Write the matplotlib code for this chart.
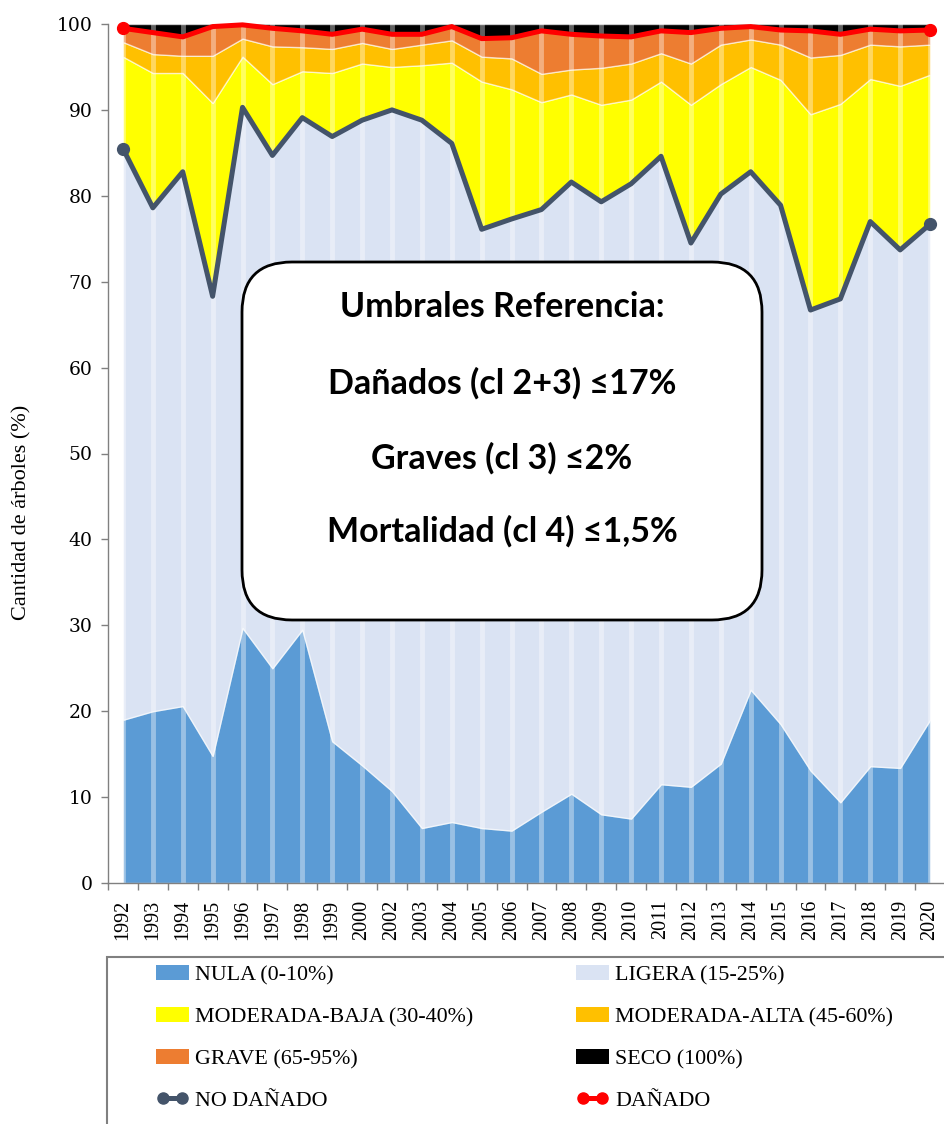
import matplotlib
matplotlib.use("Agg")
import matplotlib.pyplot as plt
from matplotlib.patches import FancyBboxPatch, Rectangle, Patch
from matplotlib.lines import Line2D
import numpy as np

years = ["1992", "1993", "1994", "1995", "1996", "1997", "1998", "1999", "2000",
         "2002", "2003", "2004", "2005", "2006", "2007", "2008", "2009", "2010",
         "2011", "2012", "2013", "2014", "2015", "2016", "2017", "2018", "2019", "2020"]

nula = [19.0, 20.0, 20.6, 14.8, 29.7, 25.0, 29.5, 16.5, 13.7, 10.7, 6.4, 7.1, 6.4, 6.1,
        8.3, 10.4, 8.0, 7.5, 11.5, 11.2, 13.9, 22.5, 18.5, 13.1, 9.4, 13.6, 13.4, 19.0]
ligera = [66.5, 58.6, 62.2, 53.5, 60.6, 59.7, 59.6, 70.4, 75.1, 79.3, 82.4, 79.0, 69.7, 71.2,
          70.1, 71.2, 71.3, 73.9, 73.1, 63.3, 66.3, 60.3, 60.4, 53.6, 58.6, 63.4, 60.3, 57.7]
mod_baja = [10.7, 15.7, 11.5, 22.5, 5.9, 8.3, 5.4, 7.4, 6.6, 5.0, 6.4, 9.4, 17.2, 15.1,
            12.5, 10.2, 11.3, 9.8, 8.7, 16.1, 12.8, 12.2, 14.6, 22.8, 22.7, 16.6, 19.1, 17.4]
mod_alta = [1.7, 2.2, 2.0, 5.5, 2.1, 4.4, 2.8, 2.8, 2.4, 2.1, 2.4, 2.6, 2.9, 3.6,
            3.3, 2.9, 4.3, 4.2, 3.3, 4.8, 4.6, 3.2, 4.1, 6.6, 5.7, 4.0, 4.6, 3.5]
grave = [1.6, 2.5, 2.2, 3.4, 1.6, 2.1, 1.9, 1.7, 1.6, 1.7, 1.2, 1.6, 2.1, 2.4,
         5.0, 4.1, 3.7, 3.1, 2.6, 3.6, 1.9, 1.5, 1.7, 3.1, 2.4, 1.8, 1.8, 1.7]
seco = [0.5, 1.0, 1.5, 0.3, 0.1, 0.5, 0.8, 1.2, 0.6, 1.2, 1.2, 0.3, 1.7, 1.6,
        0.8, 1.2, 1.4, 1.5, 0.8, 1.0, 0.5, 0.3, 0.7, 0.8, 1.2, 0.6, 0.8, 0.7]

no_danado = [85.5, 78.6, 82.8, 68.3, 90.3, 84.7, 89.1, 86.9, 88.8, 90.0, 88.8, 86.1, 76.1, 77.3,
             78.4, 81.6, 79.3, 81.4, 84.6, 74.5, 80.2, 82.8, 78.9, 66.7, 68.0, 77.0, 73.7, 76.7]
danado = [99.5, 99.0, 98.5, 99.7, 99.9, 99.5, 99.2, 98.8, 99.4, 98.8, 98.8, 99.7, 98.3, 98.4,
          99.2, 98.8, 98.6, 98.5, 99.2, 99.0, 99.5, 99.7, 99.3, 99.2, 98.8, 99.4, 99.2, 99.3]

class_labels = ["NULA (0-10%)", "LIGERA (15-25%)", "MODERADA-BAJA (30-40%)",
                "MODERADA-ALTA (45-60%)", "GRAVE (65-95%)", "SECO (100%)"]
class_colors = ["#5B9BD5", "#DAE3F3", "#FFFF00", "#FFC000", "#ED7D31", "#000000"]

box_lines = ["Umbrales Referencia:", "Dañados (cl 2+3) ≤17%",
             "Graves (cl 3) ≤2%", "Mortalidad (cl 4) ≤1,5%"]

W, H = 945, 1124
fig = plt.figure(figsize=(W / 100, H / 100), dpi=100)
ax = fig.add_axes([108 / W, 1 - 883 / H, 1 - 108 / W, (883 - 24) / H])

x = np.arange(len(years))
ax.stackplot(x, nula, ligera, mod_baja, mod_alta, grave, seco,
             colors=class_colors, labels=class_labels,
             edgecolor=(1, 1, 1, 0.6), linewidth=1.0, zorder=1)

for xi in x:
    ax.axvline(xi, color="white", alpha=0.38, lw=3.5, zorder=2)

ax.plot(x, no_danado, color="#44546A", lw=3.6, marker="o", markersize=8.5,
        markevery=[0, len(x) - 1], zorder=4, clip_on=False, solid_capstyle="round")
ax.plot(x, danado, color="#FF0000", lw=3.6, marker="o", markersize=8.5,
        markevery=[0, len(x) - 1], zorder=4, clip_on=False, solid_capstyle="round")

ax.set_xlim(-0.5, -0.5 + (W - 108) / ((935 - 123) / 27))
ax.set_ylim(0, 100)
ax.set_yticks(np.arange(0, 101, 10))
ax.set_xticks(x)
ax.set_xticklabels(years, rotation=90, family="Liberation Serif", fontsize=14.5)
ax.set_xticks(np.arange(-0.5, len(x), 1.0), minor=True)
ax.tick_params(axis="x", which="major", length=0, pad=12)
ax.tick_params(axis="x", which="minor", length=5, color="#808080", width=1)
ax.tick_params(axis="y", length=5, color="#808080", width=1, pad=6)
for lab in ax.get_yticklabels():
    lab.set_family("DejaVu Serif")
    lab.set_fontsize(13.5)
for s in ["top", "right"]:
    ax.spines[s].set_visible(False)
for s in ["left", "bottom"]:
    ax.spines[s].set_color("#808080")
    ax.spines[s].set_linewidth(1)

fig.text(22 / W, 1 - 512 / H, "Cantidad de árboles (%)", rotation=90,
         ha="center", va="center", family="Liberation Serif", fontsize=16)

# annotation box
box = FancyBboxPatch((2.42, H / 100 - 6.20), 5.20, 3.58,
                     boxstyle="round,pad=0,rounding_size=0.5",
                     transform=fig.dpi_scale_trans, facecolor="white",
                     edgecolor="black", lw=2, zorder=10)
fig.patches.append(box)
for txt, yy in zip(box_lines, [307, 383, 458, 531]):
    fig.text(502 / W, 1 - yy / H, txt, ha="center", va="center", fontsize=24.5,
             fontweight="bold", family=["Lato", "DejaVu Sans"], zorder=11)

# legend frame
fig.add_artist(Rectangle((107 / W, -0.02), 0.95, 0.02 + 1 - 957 / H,
                         transform=fig.transFigure, facecolor="none",
                         edgecolor="#808080", lw=1.5))

def area_handle(c):
    return Patch(facecolor=c, edgecolor="none")

def line_handle(c):
    return Line2D([0], [0], color=c, lw=3.6, marker="o", markersize=8)

h1 = [area_handle(class_colors[0]), area_handle(class_colors[2]),
      area_handle(class_colors[4]), line_handle("#44546A")]
l1 = [class_labels[0], class_labels[2], class_labels[4], "NO DAÑADO"]
h2 = [area_handle(class_colors[1]), area_handle(class_colors[3]),
      area_handle(class_colors[5]), line_handle("#FF0000")]
l2 = [class_labels[1], class_labels[3], class_labels[5], "DAÑADO"]

legkw = dict(loc="upper left", frameon=False, borderpad=0, borderaxespad=0,
             handlelength=1.5, handletextpad=0.28, labelspacing=0.98, numpoints=2,
             prop={"family": "Liberation Serif", "size": 15.8})
fig.legend(h1, l1, bbox_to_anchor=(156 / W, 1 - 965 / H), **legkw)
fig.legend(h2, l2, bbox_to_anchor=(576 / W, 1 - 965 / H), **legkw)

fig.savefig("out.png", dpi=100)
